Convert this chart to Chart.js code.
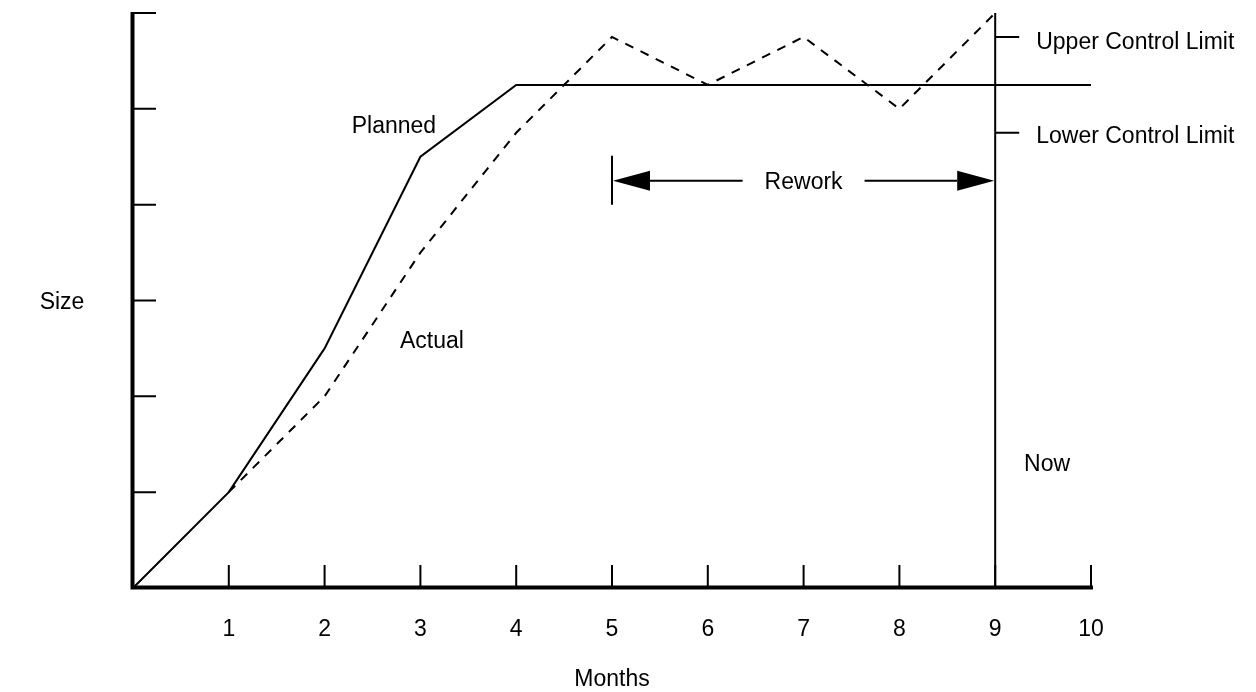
<!DOCTYPE html>
<html>
<head>
<meta charset="utf-8">
<title>Planned vs Actual Size</title>
<script src="https://cdn.jsdelivr.net/npm/chart.js@4"></script>
<style>
  html, body { margin: 0; padding: 0; background: #fff; }
  #wrap { width: 1256px; height: 692px; position: relative; }
</style>
</head>
<body>
<div id="wrap"><canvas id="chart"></canvas></div>
<script>
/* Data */
const months = [0, 1, 2, 3, 4, 5, 6, 7, 8, 9, 10];
const monthTicks = [1, 2, 3, 4, 5, 6, 7, 8, 9, 10];
const sizeTicks = [1, 2, 3, 4, 5, 6];
const planned = [0, 1, 2.5, 4.5, 5.25, 5.25, 5.25, 5.25, 5.25, 5.25, 5.25];
const actual = [null, 1, 2, 3.5, 4.75, 5.75, 5.25, 5.75, 5, 6];
const nowMonth = 9;
const reworkFrom = 5;
const upperLimit = 5.75;
const lowerLimit = 4.75;

/* Notes: [text, x, y] in data units (y = baseline) */
const notes = [
  ['Planned', 2.724, 4.748],
  ['Actual', 3.121, 2.504],
  ['Now', 9.541, 1.221],
];

const FONT = '23px "Liberation Sans", Arial, sans-serif';
const INK = '#000';

const toPts = (ys) => months.map((m, i) => ({ x: m, y: ys[i] })).filter(p => p.y !== null && p.y !== undefined);

/* Custom drawing: axes, ticks, labels, rework arrow, control limits */
const sketch = {
  id: 'sketch',
  afterDraw(chart) {
    const { ctx, scales: { x, y } } = chart;
    const x0 = x.getPixelForValue(0), y0 = y.getPixelForValue(0);
    const xEnd = x.getPixelForValue(10), yTop = y.getPixelForValue(6);
    ctx.save();
    ctx.strokeStyle = INK; ctx.fillStyle = INK; ctx.lineCap = 'butt';

    // axes
    ctx.lineWidth = 4;
    ctx.beginPath();
    ctx.moveTo(x0 - 0.5, yTop - 1); ctx.lineTo(x0 - 0.5, y0 + 1.5);
    ctx.moveTo(x0 - 2.5, y0 - 0.5); ctx.lineTo(xEnd + 2, y0 - 0.5);
    ctx.stroke();

    // ticks
    ctx.lineWidth = 2;
    ctx.beginPath();
    sizeTicks.forEach(v => { const py = y.getPixelForValue(v); ctx.moveTo(x0, py); ctx.lineTo(x0 + 23, py); });
    monthTicks.forEach(v => { const px = x.getPixelForValue(v); ctx.moveTo(px, y0 - 2); ctx.lineTo(px, y0 - 23); });
    ctx.stroke();

    // "Now" line
    const nx = x.getPixelForValue(nowMonth);
    ctx.beginPath();
    ctx.moveTo(nx, y0); ctx.lineTo(nx, yTop);
    // control limit ticks
    [upperLimit, lowerLimit].forEach(v => { const py = y.getPixelForValue(v); ctx.moveTo(nx, py); ctx.lineTo(nx + 24, py); });
    ctx.stroke();

    ctx.font = FONT;
    ctx.textBaseline = 'alphabetic';

    // control limit labels
    ctx.textAlign = 'left';
    ctx.fillText('Upper Control Limit', nx + 41, y.getPixelForValue(upperLimit) + 12);
    ctx.fillText('Lower Control Limit', nx + 41, y.getPixelForValue(lowerLimit) + 10);

    // rework arrow
    const rx = x.getPixelForValue(reworkFrom);
    const ry = y.getPixelForValue(4.25);
    ctx.beginPath();
    ctx.moveTo(rx, ry - 25); ctx.lineTo(rx, ry + 24);
    ctx.stroke();
    const mid = (rx + nx) / 2;
    const tw = ctx.measureText('Rework').width;
    ctx.beginPath();
    ctx.moveTo(rx + 37, ry); ctx.lineTo(mid - tw / 2 - 22, ry);
    ctx.moveTo(mid + tw / 2 + 22, ry); ctx.lineTo(nx - 38, ry);
    ctx.stroke();
    ctx.beginPath();
    ctx.moveTo(rx + 1, ry); ctx.lineTo(rx + 38, ry - 10); ctx.lineTo(rx + 38, ry + 10); ctx.closePath();
    ctx.moveTo(nx - 1, ry); ctx.lineTo(nx - 38, ry - 10); ctx.lineTo(nx - 38, ry + 10); ctx.closePath();
    ctx.fill();
    ctx.textAlign = 'center';
    ctx.fillText('Rework', mid, ry + 8);

    // notes
    notes.forEach(([t, vx, vy]) => ctx.fillText(t, x.getPixelForValue(vx), y.getPixelForValue(vy)));

    // tick labels and titles
    monthTicks.forEach(v => ctx.fillText(String(v), x.getPixelForValue(v), y0 + 48));
    ctx.fillText('Months', x.getPixelForValue(5), y0 + 98);
    ctx.fillText('Size', 62, y.getPixelForValue(3) + 8);

    ctx.restore();
  }
};

new Chart(document.getElementById('chart').getContext('2d'), {
  type: 'line',
  data: {
    datasets: [
      { label: 'Planned', data: toPts(planned), borderColor: INK, borderWidth: 2, pointRadius: 0, tension: 0, clip: false },
      { label: 'Actual', data: toPts(actual), borderColor: INK, borderWidth: 2, borderDash: [9, 8], pointRadius: 0, tension: 0, clip: false },
    ]
  },
  options: {
    responsive: true,
    maintainAspectRatio: false,
    animation: false,
    layout: { padding: { left: 133, right: 165, top: 13, bottom: 104 } },
    plugins: { legend: { display: false }, tooltip: { enabled: false } },
    scales: {
      x: { type: 'linear', min: 0, max: 10, display: false },
      y: { type: 'linear', min: 0, max: 6, display: false },
    }
  },
  plugins: [sketch]
});
</script>
</body>
</html>
